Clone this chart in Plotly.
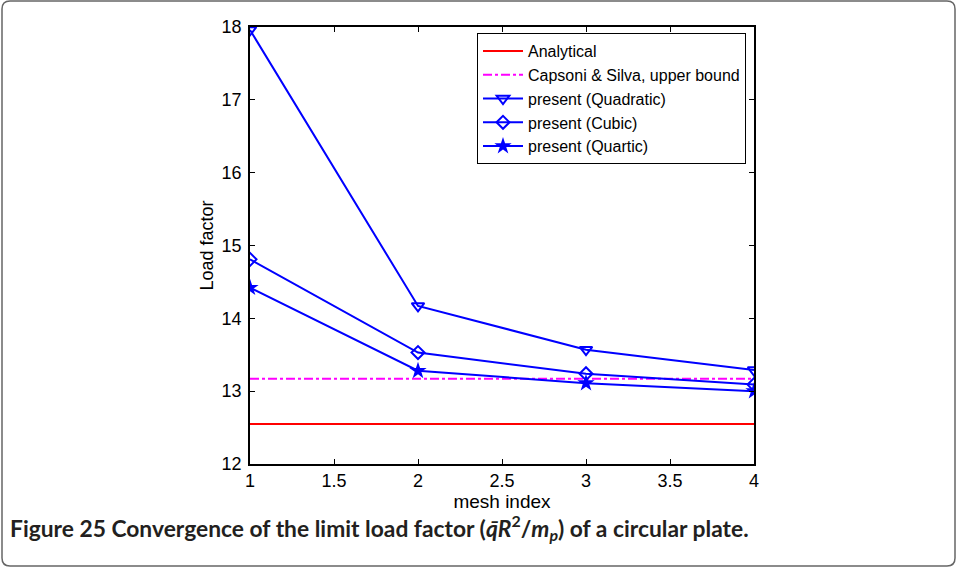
import plotly.graph_objects as go

mesh_index = [1, 2, 3, 4]
analytical = [12.55, 12.55, 12.55, 12.55]
capsoni_upper = [13.17, 13.17, 13.17, 13.17]
quadratic = [17.96, 14.17, 13.57, 13.29]
cubic = [14.81, 13.53, 13.24, 13.09]
quartic = [14.42, 13.28, 13.11, 13.00]

x_ticks = [1, 1.5, 2, 2.5, 3, 3.5, 4]
y_ticks = [12, 13, 14, 15, 16, 17, 18]

W, H = 957, 568
L, R, T, B = 250, 203, 27, 104
pw, ph = W - L - R, H - T - B


def px(x):
    return (x - L) / pw


def py(y):
    return (H - B - y) / ph


fig = go.Figure()
fig.add_trace(go.Scatter(x=mesh_index, y=analytical, mode="lines", name="Analytical",
                         line=dict(color="#ff0000", width=2)))
fig.add_trace(go.Scatter(x=mesh_index, y=capsoni_upper, mode="lines", name="Capsoni & Silva, upper bound",
                         line=dict(color="#ff00ff", width=2, dash="dashdot")))
fig.add_trace(go.Scatter(x=mesh_index, y=quadratic, mode="lines+markers", name="present (Quadratic)",
                         line=dict(color="#0000ff", width=2),
                         marker=dict(symbol="triangle-down-open", size=11, color="#0000ff", line=dict(width=2))))
fig.add_trace(go.Scatter(x=mesh_index, y=cubic, mode="lines+markers", name="present (Cubic)",
                         line=dict(color="#0000ff", width=2),
                         marker=dict(symbol="diamond-open", size=10, color="#0000ff", line=dict(width=2))))
fig.add_trace(go.Scatter(x=mesh_index, y=quartic, mode="lines+markers", name="present (Quartic)",
                         line=dict(color="#0000ff", width=2),
                         marker=dict(symbol="star", size=13, color="#0000ff", line=dict(width=0))))

axis_style = dict(showline=True, linecolor="black", linewidth=1.5, mirror="ticks", ticks="inside",
                  ticklen=5, tickcolor="black", showgrid=False, zeroline=False,
                  tickfont=dict(family="Liberation Sans", size=18, color="black"))
fig.update_xaxes(range=[1, 4], tickvals=x_ticks, ticktext=[str(v) for v in x_ticks],
                 title=dict(text="mesh index", font=dict(family="Liberation Sans", size=19, color="black"),
                            standoff=0), **axis_style)
fig.update_yaxes(range=[12, 18], tickvals=y_ticks, ticklabelstandoff=3,
                 title=dict(text="Load factor", font=dict(family="Liberation Sans", size=18, color="black"),
                            standoff=3), **axis_style)

# rounded grey frame around the whole figure
x0, x1, y0, y1, r = px(2), px(955), py(1), py(566), 8
rx, ry = r / pw, r / ph
path = (f"M {x0 + rx},{y0} L {x1 - rx},{y0} Q {x1},{y0} {x1},{y0 - ry} "
        f"L {x1},{y1 + ry} Q {x1},{y1} {x1 - rx},{y1} L {x0 + rx},{y1} Q {x0},{y1} {x0},{y1 + ry} "
        f"L {x0},{y0 - ry} Q {x0},{y0} {x0 + rx},{y0} Z")
fig.add_shape(type="path", path=path, xref="paper", yref="paper",
              line=dict(color="#666666", width=1.5))

fig.add_annotation(text="<b>Figure 25 Convergence of the limit load factor (<i>q̄R</i><sup>2</sup>/<i>m<sub>p</sub></i>) of a circular plate.</b>",
                   xref="paper", yref="paper", x=px(8), y=py(527), xanchor="left", yanchor="middle",
                   showarrow=False, font=dict(family="Lato", size=22.8, color="#231f20"))

fig.update_layout(
    width=W, height=H,
    margin=dict(l=L, r=R, t=T, b=B),
    paper_bgcolor="white", plot_bgcolor="white",
    showlegend=True,
    legend=dict(x=px(477), y=py(33), xanchor="left", yanchor="top",
                bgcolor="white", bordercolor="black", borderwidth=1,
                font=dict(family="Liberation Sans", size=16, color="black"),
                tracegroupgap=0, itemwidth=40),
)

fig.write_html("out.html", config={"displayModeBar": False},
               post_script="document.body.style.margin='0';")
